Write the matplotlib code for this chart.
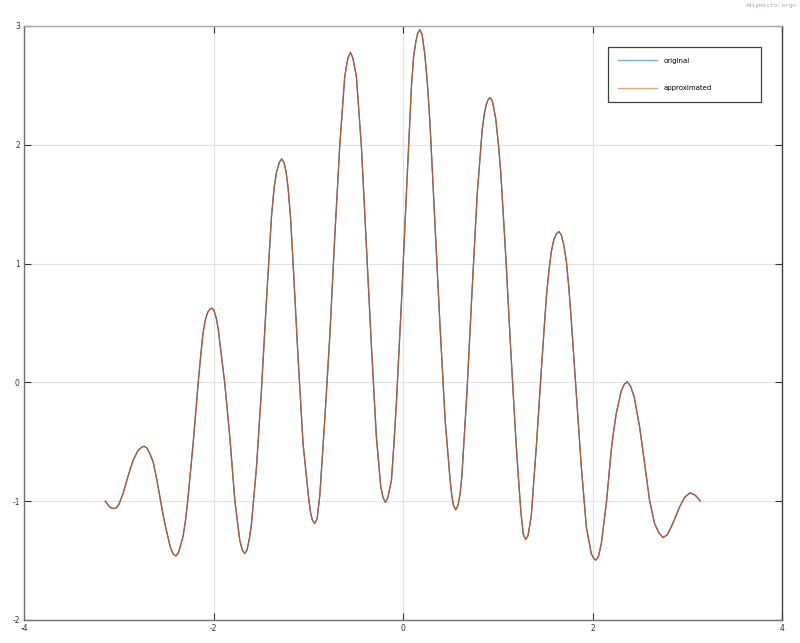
import numpy as np
import matplotlib
matplotlib.use("Agg")
import matplotlib.pyplot as plt

# points (x from -pi to pi)
x_pts = [-3.142, -3.100, -3.075, -3.050, -3.025, -3.000, -2.954, -2.900, -2.848,
         -2.800, -2.762, -2.732, -2.702, -2.672, -2.637, -2.600, -2.566, -2.530,
         -2.496, -2.458, -2.428, -2.398, -2.373, -2.348, -2.321, -2.295, -2.268,
         -2.215, -2.162, -2.135, -2.110, -2.085, -2.060, -2.035, -2.015, -1.995,
         -1.970, -1.950, -1.934, -1.881, -1.828, -1.775, -1.723, -1.695, -1.670,
         -1.645, -1.620, -1.599, -1.546, -1.494, -1.441, -1.388, -1.360, -1.335,
         -1.305, -1.280, -1.255, -1.235, -1.213, -1.187, -1.160, -1.108, -1.055,
         -0.995, -0.975, -0.956, -0.931, -0.906, -0.878, -0.826, -0.773, -0.720,
         -0.668, -0.615, -0.595, -0.580, -0.555, -0.530, -0.515, -0.492, -0.439,
         -0.386, -0.333, -0.281, -0.235, -0.211, -0.186, -0.160, -0.122, -0.096,
         -0.070, -0.017, 0.036, 0.089, 0.112, 0.134, 0.152, 0.177, 0.202,
         0.230, 0.257, 0.284, 0.337, 0.390, 0.444, 0.497, 0.515, 0.531,
         0.556, 0.581, 0.601, 0.621, 0.675, 0.729, 0.782, 0.835, 0.858,
         0.878, 0.898, 0.920, 0.942, 0.960, 0.978, 1.005, 1.032, 1.085,
         1.138, 1.191, 1.218, 1.245, 1.270, 1.295, 1.320, 1.354, 1.407,
         1.460, 1.513, 1.539, 1.565, 1.590, 1.618, 1.646, 1.671, 1.696,
         1.724, 1.750, 1.776, 1.829, 1.882, 1.935, 1.987, 2.010, 2.033,
         2.063, 2.093, 2.146, 2.198, 2.225, 2.251, 2.304, 2.336, 2.366,
         2.400, 2.440, 2.497, 2.550, 2.602, 2.655, 2.700, 2.743, 2.787,
         2.831, 2.875, 2.919, 2.975, 3.032, 3.085, 3.137]
y_orig = [-1.000, -1.045, -1.058, -1.062, -1.055, -1.030, -0.935, -0.785, -0.655,
          -0.578, -0.548, -0.537, -0.553, -0.600, -0.670, -0.810, -0.964, -1.125,
          -1.250, -1.380, -1.443, -1.461, -1.439, -1.375, -1.295, -1.160, -0.964,
          -0.514, -0.008, 0.225, 0.420, 0.530, 0.592, 0.618, 0.624, 0.607,
          0.538, 0.450, 0.340, -0.008, -0.458, -0.992, -1.329, -1.414, -1.441,
          -1.408, -1.308, -1.188, -0.711, -0.065, 0.693, 1.395, 1.640, 1.770,
          1.852, 1.881, 1.850, 1.775, 1.640, 1.390, 1.003, 0.216, -0.514,
          -0.980, -1.100, -1.160, -1.188, -1.145, -0.950, -0.318, 0.384, 1.227,
          1.985, 2.575, 2.670, 2.734, 2.777, 2.734, 2.670, 2.575, 1.985,
          1.142, 0.300, -0.458, -0.879, -0.968, -1.011, -0.970, -0.823, -0.520,
          -0.177, 0.666, 1.592, 2.490, 2.740, 2.860, 2.930, 2.970, 2.927,
          2.762, 2.520, 2.193, 1.340, 0.487, -0.309, -0.821, -0.950, -1.030,
          -1.073, -1.034, -0.946, -0.793, -0.082, 0.772, 1.568, 2.120, 2.260,
          2.335, 2.380, 2.397, 2.370, 2.300, 2.222, 2.020, 1.767, 1.056,
          0.260, -0.480, -0.800, -1.100, -1.280, -1.322, -1.290, -1.120, -0.542,
          0.104, 0.721, 0.930, 1.100, 1.195, 1.250, 1.269, 1.240, 1.160,
          1.020, 0.800, 0.525, -0.093, -0.711, -1.217, -1.441, -1.478, -1.497,
          -1.465, -1.357, -1.019, -0.570, -0.400, -0.260, -0.070, -0.015, 0.005,
          -0.030, -0.121, -0.374, -0.682, -0.992, -1.188, -1.265, -1.306, -1.285,
          -1.217, -1.135, -1.048, -0.965, -0.930, -0.950, -0.997]
# the approximation sits on top of the original everywhere
y_approx = list(y_orig)

x_ticks = [-4, -2, 0, 2, 4]
y_ticks = [-2, -1, 0, 1, 2, 3]

blue = (0.0, 0.447, 0.741)
orange = (0.850, 0.325, 0.098)

fig = plt.figure(figsize=(8, 6.43), dpi=100)
ax = fig.add_axes([0.03, 0.0358, 0.9475, 0.9238])

ax.plot(x_pts, y_orig, color=blue, lw=0.9, label='original')
ax.plot(x_pts, y_approx, color=orange, lw=0.9, alpha=0.85, label='approximated')

ax.set_xlim(-4, 4)
ax.set_ylim(-2, 3)
ax.set_xticks(x_ticks)
ax.set_yticks(y_ticks)
ax.set_xticklabels([str(t) for t in x_ticks])
ax.set_yticklabels([str(t) for t in y_ticks])
ax.grid(True, color='#e2e2e2', lw=0.8)
ax.set_axisbelow(True)
ax.tick_params(direction='in', length=5, width=0.8, labelsize=5.5,
               colors='#333333', top=True, right=True, pad=3)
for side, c in [('left', '#707070'), ('bottom', '#707070'),
                ('top', '#a8a8a8'), ('right', '#404040')]:
    ax.spines[side].set_color(c)
    ax.spines[side].set_linewidth(1.0)

leg = ax.legend(loc='upper left', bbox_to_anchor=(0.770, 0.965, 0.202, 0.0),
                mode='expand', fontsize=5, handlelength=5.6, handletextpad=0.9,
                labelspacing=3.1, borderpad=1.55, fancybox=False, framealpha=1,
                borderaxespad=0)
leg.get_frame().set_edgecolor('#404040')
leg.get_frame().set_linewidth(0.9)
for ln in leg.get_lines():
    ln.set_alpha(0.55)
    ln.set_linewidth(1.0)

fig.text(0.997, 0.996, '<diymicro.org>', ha='right', va='top', fontsize=4.5,
         family='DejaVu Sans Mono', color='#a0a0b4')

fig.savefig('out.png', dpi=100)
